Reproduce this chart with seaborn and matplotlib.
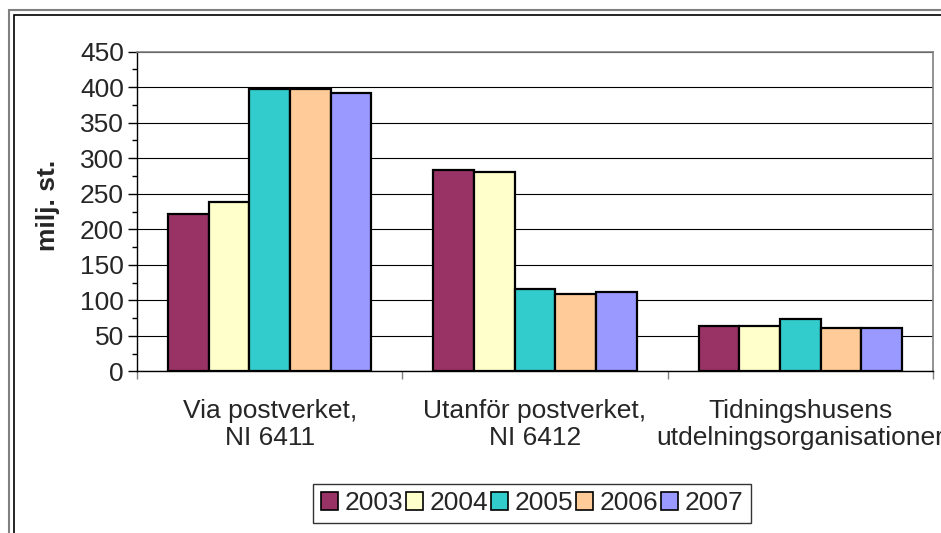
import pandas as pd
import matplotlib
matplotlib.use("Agg")
import matplotlib.pyplot as plt
import seaborn as sns
from matplotlib.patches import Rectangle, Patch
from matplotlib.ticker import MultipleLocator, FixedLocator

# Data (milj. st.)
kategorier = ["Via postverket,\nNI 6411",
              "Utanför postverket,\nNI 6412",
              "Tidningshusens\nutdelningsorganisationer"]
ar = ["2003", "2004", "2005", "2006", "2007"]
v2003 = [222, 284, 64]
v2004 = [238, 281, 64]
v2005 = [397, 116, 74]
v2006 = [397, 109, 61]
v2007 = [392, 111, 61]
farger = ["#993366", "#FFFFCC", "#33CCCC", "#FFCC99", "#9999FF"]

rows = []
for year, vals in zip(ar, [v2003, v2004, v2005, v2006, v2007]):
    for kat, v in zip(kategorier, vals):
        rows.append({"kategori": kat, "ar": year, "varde": v})
df = pd.DataFrame(rows)

sns.set_style("white")
plt.rcParams["font.family"] = ["Liberation Sans", "DejaVu Sans"]
FS = 19

fig = plt.figure(figsize=(9.41, 5.33), dpi=100)
ax = fig.add_axes([137 / 941, 1 - 371.3 / 533, 796 / 941, 319.6 / 533])

# chart frame (double line, gray outside, black inside)
fig.patches.append(Rectangle((9 / 941, -0.1), 1.2, 1 - 10 / 533 + 0.1,
                             transform=fig.transFigure, fill=False,
                             edgecolor="#808080", linewidth=1.5))
fig.patches.append(Rectangle((14 / 941, -0.1), 1.2, 1 - 15 / 533 + 0.1,
                             transform=fig.transFigure, fill=False,
                             edgecolor="black", linewidth=1.2))

sns.barplot(data=df, x="kategori", y="varde", hue="ar", palette=farger,
            saturation=1, width=0.767, edgecolor="black", linewidth=1.6,
            ax=ax, legend=False)

ax.set_ylim(0, 450)
ax.set_xlim(-0.5, 2.5)
ax.yaxis.set_major_locator(MultipleLocator(50))
ax.yaxis.set_minor_locator(MultipleLocator(25))
ax.set_axisbelow(True)
ax.grid(axis="y", which="major", color="black", linewidth=0.8)
ax.grid(axis="x", visible=False)

for s in ["top", "right"]:
    ax.spines[s].set_color("#808080")
    ax.spines[s].set_linewidth(1.2)
for s in ["left", "bottom"]:
    ax.spines[s].set_color("black")
    ax.spines[s].set_linewidth(1)

ax.tick_params(axis="y", which="major", direction="out", length=6.5, width=1,
               color="black", labelsize=FS, pad=3, left=True)
ax.tick_params(axis="y", which="minor", direction="out", length=3.6, width=1,
               color="black", left=True)
ax.xaxis.set_minor_locator(FixedLocator([-0.5, 0.5, 1.5, 2.5]))
ax.tick_params(axis="x", which="major", length=0, labelsize=FS, pad=20)
ax.tick_params(axis="x", which="minor", direction="out", length=5.5, width=1,
               color="#808080", bottom=True)
for lbl in ax.get_xticklabels():
    lbl.set_linespacing(1.15)

ax.set_xlabel("")
ax.set_ylabel("milj. st.", fontsize=FS, fontweight="bold")
ax.yaxis.set_label_coords(-0.097, 0.52)

handles = [Patch(facecolor=c, edgecolor="black", linewidth=1.2) for c in farger]
leg = fig.legend(handles, ar, loc="center", bbox_to_anchor=(532 / 941, 1 - 503.5 / 533),
                 ncol=5, fontsize=FS, frameon=True, fancybox=False,
                 handlelength=0.65, handleheight=0.65, handletextpad=0.25,
                 columnspacing=0.1, borderpad=0.3, borderaxespad=0)
leg.get_frame().set_edgecolor("black")
leg.get_frame().set_linewidth(1)

fig.savefig("out.png", dpi=100)
